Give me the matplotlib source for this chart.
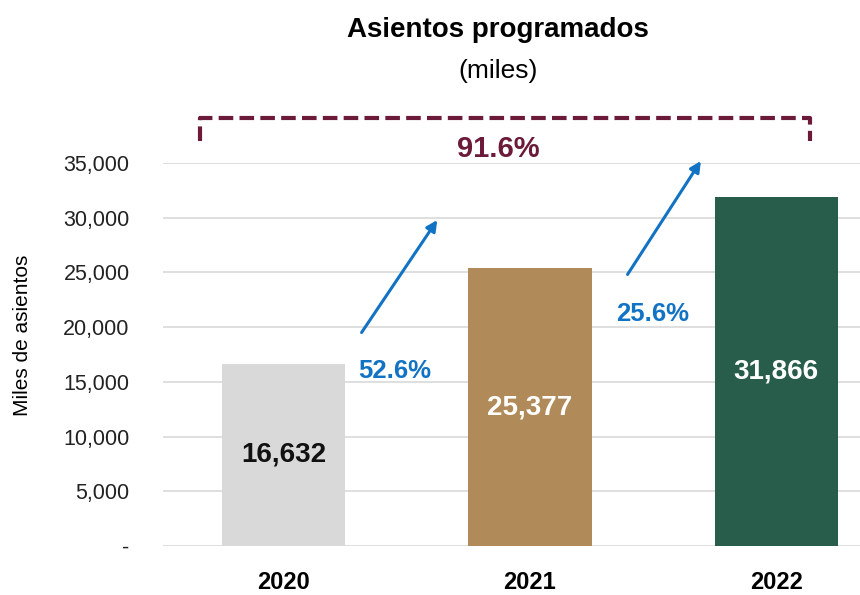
import matplotlib.pyplot as plt
from matplotlib.ticker import FuncFormatter

plt.rcParams['font.family'] = ['Liberation Sans', 'DejaVu Sans']

# data
years = ['2020', '2021', '2022']
seats = [16632, 25377, 31866]
bar_colors = ['#d9d9d9', '#b08b59', '#285c4b']
label_colors = ['#111111', 'white', 'white']
growth_labels = ['52.6%', '25.6%']
total_growth = '91.6%'

fig = plt.figure(figsize=(8.6, 5.95), dpi=100)
ax = fig.add_axes([163 / 860, 1 - 546 / 595, 1 - 163 / 860, (546 - 163) / 595])

x = list(range(len(years)))
ax.bar(x, seats, width=0.5, color=bar_colors, zorder=2)

for xi, v, c in zip(x, seats, label_colors):
    ax.text(xi, v / 2, f'{v:,}', ha='center', va='center', fontsize=20,
            fontweight='bold', color=c, zorder=3)

ax.set_ylim(0, 35000)
ax.set_xlim(-0.49, 2.34)
ax.set_yticks(range(0, 35001, 5000))
ax.yaxis.set_major_formatter(FuncFormatter(lambda v, p: '-' if v == 0 else f'{int(v):,}'))
ax.set_xticks(x)
ax.set_xticklabels(years, fontsize=17, fontweight='bold')
ax.tick_params(axis='y', labelsize=15.5, length=0, pad=24, labelcolor='#222222')
ax.tick_params(axis='x', length=0, pad=18)
ax.grid(axis='y', color='#d9d9d9', linewidth=1.2, zorder=0)
for s in ax.spines.values():
    s.set_visible(False)
ax.set_ylabel('Miles de asientos', fontsize=15)
ax.yaxis.set_label_coords(-0.188, 0.55)

# growth arrows
blue = '#1273c4'
ax.annotate('', xy=(0.63, 30000), xytext=(0.31, 19300),
            arrowprops=dict(arrowstyle='-|>', color=blue, lw=2.2, mutation_scale=16),
            annotation_clip=False)
ax.annotate('', xy=(1.70, 35400), xytext=(1.39, 24600),
            arrowprops=dict(arrowstyle='-|>', color=blue, lw=2.2, mutation_scale=16),
            annotation_clip=False)
ax.text(0.45, 16000, growth_labels[0], ha='center', va='center', fontsize=18.5,
        fontweight='bold', color=blue)
ax.text(1.50, 21200, growth_labels[1], ha='center', va='center', fontsize=18.5,
        fontweight='bold', color=blue)

# total bracket
maroon = '#6b1a3a'
ax.plot([-0.34, -0.34, 2.135, 2.135], [37000, 39100, 39100, 37000], color=maroon,
        lw=3, ls=(0, (3.5, 1.5)), clip_on=False, solid_capstyle='butt')
ax.text(0.87, 36300, total_growth, ha='center', va='center', fontsize=21,
        fontweight='bold', color=maroon)

fig.text(498 / 860, 1 - 30 / 595, 'Asientos programados', ha='center', va='center',
         fontsize=20, fontweight='bold')
fig.text(498 / 860, 1 - 71 / 595, '(miles)', ha='center', va='center', fontsize=19)

fig.savefig('out.png', dpi=100)
